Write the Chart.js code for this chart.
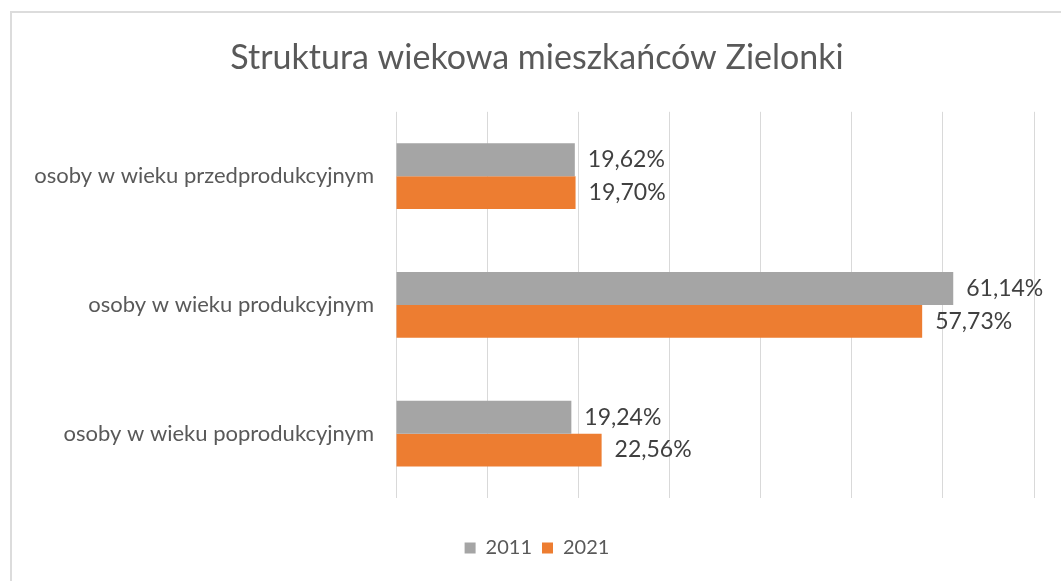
<!DOCTYPE html>
<html>
<head>
<meta charset="utf-8">
<script src="https://cdn.jsdelivr.net/npm/chart.js@4.4.0/dist/chart.umd.min.js"></script>
<style>
    body { margin: 0; background: #fff; }
    #frame {
        position: absolute; left: 10px; top: 11px;
        width: 1100px; height: 620px;
        border: 2px solid #dcdcdc;
    }
    #wykres { position: absolute; left: 0; top: 0; }
</style>
</head>
<body>
<div id="frame"></div>
<canvas id="wykres" width="1061" height="581"></canvas>
<script>
const kategorie = ['osoby w wieku przedprodukcyjnym', 'osoby w wieku produkcyjnym', 'osoby w wieku poprodukcyjnym'];
const lata = ['2011', '2021'];
const wartosci2011 = [19.62, 61.14, 19.24];
const wartosci2021 = [19.70, 57.73, 22.56];
const kolory = ['#a5a5a5', '#ed7d31'];

const czcionka = "Lato, sans-serif";

// etykiety z wartościami na końcu słupków
const etykietyPlugin = {
    id: 'etykiety',
    afterDatasetsDraw(chart) {
        const ctx = chart.ctx;
        ctx.save();
        ctx.font = `23px ${czcionka}`;
        ctx.fillStyle = '#404040';
        ctx.textBaseline = 'middle';
        ctx.textAlign = 'left';
        chart.data.datasets.forEach((ds, i) => {
            chart.getDatasetMeta(i).data.forEach((bar, j) => {
                const tekst = ds.data[j].toFixed(2).replace('.', ',') + '%';
                ctx.fillText(tekst, bar.x + 13, bar.y);
            });
        });
        ctx.restore();
    }
};

// tytuł i legenda wyśrodkowane względem ramki, nie całego płótna
const przesunPlugin = {
    id: 'przesun',
    afterLayout(chart) {
        if (chart.titleBlock) chart.titleBlock.left += 40;
        if (chart.legend) chart.legend.left += 40;
    }
};

new Chart(document.getElementById('wykres'), {
    type: 'bar',
    data: {
        labels: kategorie,
        datasets: [
            { label: lata[0], data: wartosci2011, backgroundColor: kolory[0] },
            { label: lata[1], data: wartosci2021, backgroundColor: kolory[1] }
        ]
    },
    options: {
        indexAxis: 'y',
        responsive: false,
        animation: false,
        categoryPercentage: 0.51,
        barPercentage: 1.0,
        layout: { padding: { left: 0, right: 27, top: 0, bottom: 13 } },
        plugins: {
            title: {
                display: true,
                text: 'Struktura wiekowa mieszkańców Zielonki',
                color: '#595959',
                font: { family: czcionka, size: 34, weight: 'normal' },
                padding: { top: 38, bottom: 33 }
            },
            legend: {
                position: 'bottom',
                labels: {
                    boxWidth: 11, boxHeight: 11,
                    color: '#595959',
                    font: { family: czcionka, size: 20 },
                    padding: 10
                }
            },
            tooltip: { enabled: false }
        },
        scales: {
            x: {
                min: 0, max: 70,
                ticks: { display: false, stepSize: 10 },
                grid: { color: '#d9d9d9', drawTicks: false },
                border: { display: false },
                afterFit(scale) { scale.height = 30; }
            },
            y: {
                ticks: {
                    color: '#595959',
                    font: { family: czcionka, size: 22 },
                    padding: 22
                },
                grid: { display: false, drawTicks: false },
                border: { display: false },
                afterFit(scale) { scale.width = 396; }
            }
        }
    },
    plugins: [etykietyPlugin, przesunPlugin]
});
</script>
</body>
</html>
